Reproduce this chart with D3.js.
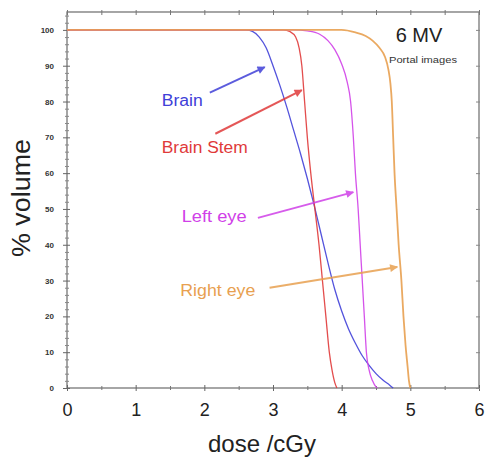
<!DOCTYPE html>
<html><head><meta charset="utf-8">
<script src="https://cdn.jsdelivr.net/npm/d3@7/dist/d3.min.js"></script>
<style>body{margin:0;background:#fff}svg{display:block}text{font-family:"Liberation Sans",Arial,sans-serif}</style>
</head><body><svg id="c" width="485" height="461"></svg>
<script>
const xTicks = [0,1,2,3,4,5,6];
const yTicks = [0,10,20,30,40,50,60,70,80,90,100];
const seriesNames = ["Brain","Brain Stem","Left eye","Right eye"];
const seriesColors = ["#4040d8","#e03a3a","#d040e8","#e8a050"];
const brain = [[0,100],[2.6,100],[2.7,99.6],[2.8,98],[2.9,95],[3.0,90],[3.1,84.5],[3.2,78.5],[3.3,72],[3.4,65.5],[3.5,58.5],[3.6,51],[3.7,43],[3.8,35],[3.9,27.5],[4.0,21.5],[4.1,16.5],[4.2,12.5],[4.3,9],[4.4,6.3],[4.5,4],[4.6,2.2],[4.7,0.8],[4.75,0]];
const brainStem = [[0,100],[3.15,100],[3.25,99.5],[3.33,98],[3.38,95],[3.42,90],[3.46,80],[3.5,70],[3.55,60],[3.61,50],[3.67,40],[3.72,30],[3.77,20],[3.82,10],[3.86,5],[3.9,1.5],[3.93,0]];
const leftEye = [[0,100],[3.3,100],[3.5,99.7],[3.68,98.8],[3.8,97],[3.9,94.5],[4.0,90.5],[4.08,85.5],[4.13,80],[4.17,70],[4.2,60],[4.24,50],[4.27,40],[4.3,30],[4.33,20],[4.36,10],[4.4,5],[4.45,2],[4.5,0.3],[4.52,0]];
const rightEye = [[0,100],[4.0,100],[4.2,99.3],[4.35,98.3],[4.45,97],[4.55,95],[4.63,92.5],[4.68,89],[4.71,85],[4.73,80],[4.75,70],[4.77,60],[4.8,50],[4.83,40],[4.87,30],[4.9,20],[4.93,12],[4.96,6],[4.98,2],[5.0,0]];
const seriesData = [brain, brainStem, leftEye, rightEye];
// label text positions (in data units) and arrow start/end (data units)
const labelPos = [[1.38,78.7],[1.38,65.6],[1.67,46.4],[1.65,25.7]];
const labelLen = [41,86,65,75];
const arrowFrom = [[2.08,82.5],[2.16,71],[2.78,47.5],[2.95,28]];
const arrowTo = [[2.88,89.6],[3.42,83.2],[4.17,54.7],[4.81,33.8]];

const svg = d3.select("#c");
const x = d3.scaleLinear().domain([0,6]).range([67,479]);
const y = d3.scaleLinear().domain([0,105]).range([388,12]);

// frame
const fr = svg.append("g").attr("stroke","#808080").attr("stroke-width",1.4).attr("fill","none");
fr.append("rect").attr("x",x(0)).attr("y",y(105)).attr("width",x(6)-x(0)).attr("height",y(0)-y(105));

// axes
const ax = svg.append("g").attr("transform",`translate(0,${y(0)})`)
  .call(d3.axisBottom(x).tickValues(xTicks).tickSize(4).tickFormat(d3.format("d")));
ax.select(".domain").remove();
ax.selectAll(".tick line").attr("stroke","#666").attr("y1",-3).attr("y2",3);
ax.selectAll("text").attr("font-size",18).attr("fill","#222").attr("dy","1.15em");
const axm = svg.append("g").attr("transform",`translate(0,${y(0)})`)
  .call(d3.axisBottom(x).tickValues(d3.range(0.5,6,1)).tickSize(0).tickFormat(""));
axm.select(".domain").remove();
axm.selectAll(".tick line").attr("stroke","#777").attr("y1",-2).attr("y2",2);
const axt = svg.append("g").attr("transform",`translate(0,${y(105)})`)
  .call(d3.axisTop(x).tickValues(d3.range(0,6.01,0.5)).tickSize(0).tickFormat(""));
axt.select(".domain").remove();
axt.selectAll(".tick line").attr("stroke","#777").attr("y1",-2).attr("y2",3);

const ay = svg.append("g").attr("transform",`translate(${x(0)},0)`)
  .call(d3.axisLeft(y).tickValues(yTicks).tickSize(4).tickFormat(d3.format("d")));
ay.select(".domain").remove();
ay.selectAll(".tick line").attr("stroke","#666").attr("x1",-4).attr("x2",3);
ay.selectAll("text").attr("font-size",8).attr("font-weight","bold").attr("fill","#333").attr("x",-13);
const aym = svg.append("g").attr("transform",`translate(${x(0)},0)`)
  .call(d3.axisLeft(y).tickValues(d3.range(0,105,2).filter(v=>v%10)).tickSize(0).tickFormat(""));
aym.select(".domain").remove();
aym.selectAll(".tick line").attr("stroke","#888").attr("x1",-2).attr("x2",2);
const ayr = svg.append("g").attr("transform",`translate(${x(6)},0)`)
  .call(d3.axisRight(y).tickValues(yTicks).tickSize(0).tickFormat(""));
ayr.select(".domain").remove();
ayr.selectAll(".tick line").attr("stroke","#888").attr("x1",-3).attr("x2",1);

// curves
const line = d3.line().x(d=>x(d[0])).y(d=>y(d[1])).curve(d3.curveMonotoneX);
seriesData.forEach((s,i)=>{
  svg.append("path").datum(s).attr("d",line).attr("fill","none")
    .attr("stroke",seriesColors[i]).attr("stroke-width",i===3?1.8:1.3).attr("opacity",0.9);
});

// arrows
const defs = svg.append("defs");
seriesColors.forEach((c,i)=>{
  defs.append("marker").attr("id","ah"+i).attr("viewBox","0 0 10 10").attr("refX",9).attr("refY",5)
    .attr("markerWidth",5).attr("markerHeight",4).attr("orient","auto").attr("markerUnits","strokeWidth")
    .append("path").attr("d","M0,0L10,5L0,10z").attr("fill",c);
});
seriesNames.forEach((n,i)=>{
  svg.append("line").attr("x1",x(arrowFrom[i][0])).attr("y1",y(arrowFrom[i][1]))
    .attr("x2",x(arrowTo[i][0])).attr("y2",y(arrowTo[i][1]))
    .attr("stroke",seriesColors[i]).attr("stroke-width",2).attr("opacity",0.85)
    .attr("marker-end",`url(#ah${i})`);
  svg.append("text").attr("x",x(labelPos[i][0])).attr("y",y(labelPos[i][1]))
    .attr("font-size",16).attr("fill",seriesColors[i])
    .attr("textLength",labelLen[i]).attr("lengthAdjust","spacingAndGlyphs").text(n);
});

// annotation
svg.append("text").attr("x",419).attr("y",42).attr("text-anchor","middle").attr("font-size",20).attr("fill","#222").text("6 MV");
svg.append("text").attr("x",423).attr("y",63).attr("text-anchor","middle").attr("font-size",9.5).attr("fill","#333")
  .attr("textLength",68).attr("lengthAdjust","spacingAndGlyphs").text("Portal images");

// axis titles
svg.append("text").attr("x",262).attr("y",452).attr("text-anchor","middle").attr("font-size",24).attr("fill","#222").text("dose /cGy");
svg.append("text").attr("transform","translate(30,198) rotate(-90)").attr("text-anchor","middle").attr("font-size",25).attr("fill","#222")
  .attr("textLength",118).attr("lengthAdjust","spacingAndGlyphs").text("% volume");
</script></body></html>
